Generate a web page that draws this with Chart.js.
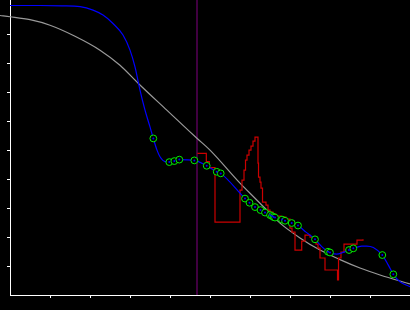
<!DOCTYPE html>
<html>
<head>
<meta charset="utf-8">
<script src="https://cdn.jsdelivr.net/npm/chart.js@4"></script>
<style>
html,body{margin:0;padding:0;background:#000;}
#c{display:block;}
</style>
</head>
<body>
<canvas id="c" width="410" height="310"></canvas>
<script>
// Smooth reference curve (gray)
const grayX = [-0.25, 0, 0.5, 1.0, 1.625, 2.25, 2.75, 3.21, 3.92, 4.5, 4.68, 5.0, 5.75, 6.125, 6.5, 6.75, 7.25, 7.75, 8.25, 8.75, 9.25, 10.0];
const grayY = [9.645, 9.603, 9.50, 9.31, 8.93, 8.45, 7.93, 7.30, 6.38, 5.63, 5.40, 5.0, 3.86, 3.34, 2.82, 2.48, 1.97, 1.55, 1.22, 0.93, 0.69, 0.38];

// Fitted curve (blue)
const blueX = [0, 0.75, 1.3, 1.75, 2.075, 2.325, 2.575, 2.825, 3.0, 3.125, 3.25, 3.375, 3.5, 3.583, 3.675, 3.75, 3.875,
  3.983, 4.108, 4.233, 4.608, 4.918, 5.168, 5.268, 5.875, 5.988, 6.125, 6.263, 6.375, 6.5, 6.55, 6.588, 6.625, 6.8, 6.875, 7.043, 7.2,
  7.4, 7.625, 7.8, 7.95, 8.168, 8.325, 8.475, 8.583, 8.793, 8.918, 9.083, 9.308, 9.458, 9.583, 9.75, 10.0];
const blueY = [9.99, 9.99, 9.98, 9.95, 9.83, 9.66, 9.37, 8.97, 8.45, 7.87, 7.07, 6.38, 5.80, 5.40, 5.0, 4.77, 4.60,
  4.586, 4.621, 4.672, 4.645, 4.459, 4.252, 4.197, 3.328, 3.183, 3.034, 2.931, 2.845, 2.759, 2.724, 2.690, 2.672, 2.603, 2.562, 2.483, 2.397,
  2.17, 1.921, 1.66, 1.494, 1.41, 1.47, 1.552, 1.610, 1.69, 1.69, 1.64, 1.379, 1.03, 0.714, 0.459, 0.286];

// Observations (green circles)
const obsX = [3.583, 3.983, 4.108, 4.233, 4.608, 4.918, 5.168, 5.268, 5.875, 5.988, 6.125, 6.263, 6.375, 6.5, 6.55, 6.588, 6.625, 6.8, 6.875, 7.043, 7.2, 7.625, 7.95, 8.0, 8.475, 8.583, 9.308, 9.583];
const obsY = [5.403, 4.586, 4.621, 4.672, 4.645, 4.459, 4.252, 4.197, 3.328, 3.183, 3.034, 2.931, 2.845, 2.759, 2.724, 2.690, 2.672, 2.603, 2.562, 2.483, 2.397, 1.921, 1.494, 1.466, 1.552, 1.610, 1.379, 0.714];

// Step series (red)
const stepX = [4.683, 4.908, 4.983, 5.125, 5.75, 5.8, 5.85, 5.888, 5.925, 5.975, 6.025, 6.075, 6.125, 6.2, 6.213, 6.25, 6.275, 6.313, 6.4, 6.45, 6.5, 6.575, 6.65, 6.775, 6.9, 7.0, 7.05, 7.125, 7.293, 7.375, 7.5, 7.575, 7.65, 7.7, 7.75, 7.875, 8.188, 8.213, 8.275, 8.35, 8.675, 8.825];
const stepY = [4.886, 4.603, 4.397, 2.517, 3.621, 3.966, 4.310, 4.655, 4.828, 5.0, 5.138, 5.310, 5.448, 4.552, 4.069, 3.897, 3.690, 3.207, 3.103, 2.931, 2.862, 2.793, 2.724, 2.690, 2.621, 2.310, 2.172, 1.552, 1.862, 2.069, 2.0, 1.897, 1.759, 1.621, 1.276, 0.862, 0.517, 1.276, 1.483, 1.759, 1.897, 1.921];

// Vertical marker
const markerX = 4.675;
const yTop = 10.18;

// Axis tick values
const xTickValues = [1, 2, 3, 4, 5, 6, 7, 8, 9];
const yTickValues = [1, 2, 3, 4, 5, 6, 7, 8, 9];

const pts = (xs, ys) => xs.map((x, i) => ({x: x, y: ys[i]}));

new Chart(document.getElementById('c'), {
  type: 'scatter',
  data: {
    datasets: [
      { data: pts(obsX, obsY), showLine: false, pointRadius: 1, pointBackgroundColor: '#0000ff', pointBorderWidth: 0, order: 1, clip: false },
      { data: pts(obsX, obsY), showLine: false, pointRadius: 3.4, pointBackgroundColor: '#000000', pointBorderColor: '#00ee00', pointBorderWidth: 1, order: 2, clip: false },
      { data: pts(blueX, blueY), showLine: true, borderColor: '#0000ff', borderWidth: 1.2, pointRadius: 0, cubicInterpolationMode: 'monotone', order: 3, clip: false },
      { data: pts(stepX, stepY), showLine: true, stepped: true, borderColor: '#cc0000', borderWidth: 1.2, pointRadius: 0, order: 4 },
      { data: pts(grayX, grayY), showLine: true, borderColor: '#999999', borderWidth: 1.2, pointRadius: 0, cubicInterpolationMode: 'monotone', order: 5, clip: false },
      { data: [{x: markerX, y: 0}, {x: markerX, y: yTop}], showLine: true, borderColor: '#800080', borderWidth: 1, pointRadius: 0, order: 6 }
    ]
  },
  options: {
    responsive: false,
    animation: false,
    events: [],
    layout: { autoPadding: false, padding: { left: 7, right: 0, top: 0, bottom: 12 } },
    plugins: { legend: { display: false }, tooltip: { enabled: false } },
    scales: {
      x: {
        type: 'linear', min: 0, max: 10,
        grid: { display: true, drawOnChartArea: false, drawTicks: true, tickLength: 3, color: '#ffffff', lineWidth: 1 },
        border: { display: true, color: '#ffffff', width: 1 },
        ticks: { display: false },
        afterBuildTicks: (s) => { s.ticks = xTickValues.map(v => ({value: v})); }
      },
      y: {
        type: 'linear', min: 0, max: yTop,
        grid: { display: true, drawOnChartArea: false, drawTicks: true, tickLength: 3, color: '#ffffff', lineWidth: 1 },
        border: { display: true, color: '#ffffff', width: 1 },
        ticks: { display: false },
        afterBuildTicks: (s) => { s.ticks = yTickValues.map(v => ({value: v})); }
      }
    }
  }
});
</script>
</body>
</html>
